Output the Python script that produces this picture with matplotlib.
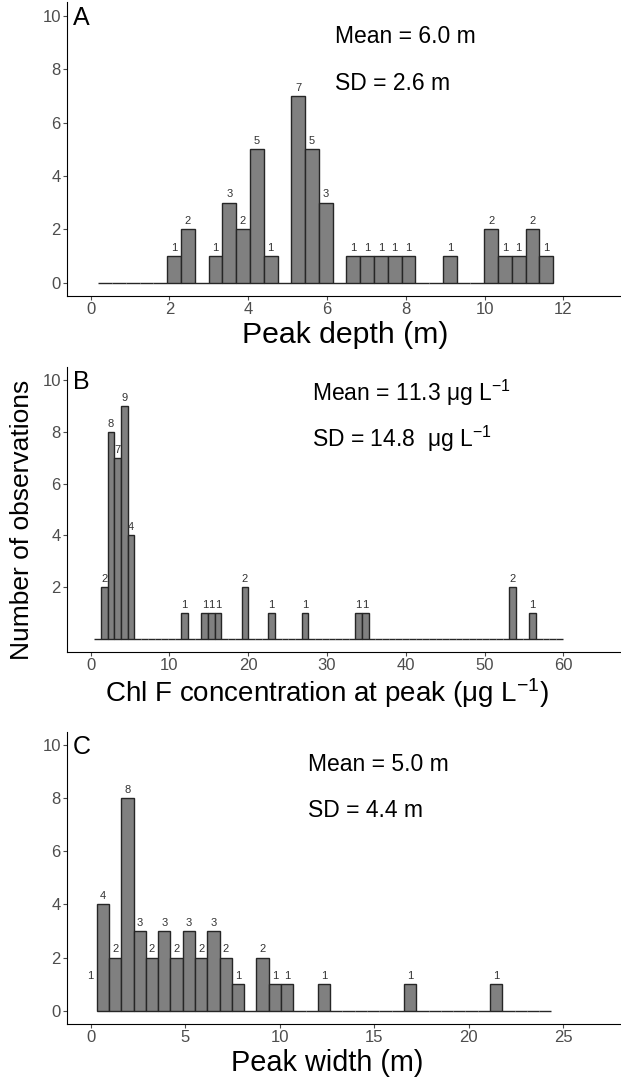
import numpy as np
import matplotlib.pyplot as plt

plt.rcParams['font.family'] = ['Liberation Sans', 'DejaVu Sans']
plt.rcParams['mathtext.fontset'] = 'custom'
plt.rcParams['mathtext.rm'] = 'Liberation Sans'
plt.rcParams['mathtext.it'] = 'Liberation Sans:italic'

#----------------------------------------------------------------------------
#    histogram data (bin start, bin width, counts)
#----------------------------------------------------------------------------

# A - peak depth (m)
depth_start = 0.195
depth_width = 0.3498
depth_counts = [0, 0, 0, 0, 0, 1, 2, 0, 1, 3, 2, 5, 1, 0, 7, 5, 3, 0,
                1, 1, 1, 1, 1, 0, 0, 1, 0, 0, 2, 1, 1, 2, 1]

# B - chl F concentration at peak (ug/L)
chl_start = 0.465
chl_width = 0.8493
chl_counts = [0] * 70
for i, c in [(1, 2), (2, 8), (3, 7), (4, 9), (5, 4), (13, 1), (16, 1),
             (17, 1), (18, 1), (22, 2), (26, 1), (31, 1), (39, 1), (40, 1),
             (62, 2), (65, 1)]:
    chl_counts[i] = c

# C - peak width (m)
width_start = 0.317
width_width = 0.6504
width_counts = [4, 2, 8, 3, 2, 3, 2, 3, 2, 3, 2, 1, 0, 2, 1, 1, 0, 0, 1,
                0, 0, 0, 0, 0, 0, 1, 0, 0, 0, 0, 0, 0, 1, 0, 0, 0, 0]
# one count label sits left of the first bar without a bar of its own
width_extra = (-1, 1)

FILL = "#808080"
EDGE = "#262626"
GREY = "#4d4d4d"


def panel(ax, start, w, counts, xlim, xticks, yticks, xlabel, lab_size,
          lab_x, letter, mean_txt, sd_txt, tx, ty1, ty2, extra=None):
    n = len(counts)
    edges = start + w * np.arange(n)
    ax.bar(edges, counts, width=w, align="edge", color=FILL,
           edgecolor=EDGE, linewidth=1.0)
    for x0, c in zip(edges, counts):
        if c > 0:
            ax.text(x0 + w / 2, c + 0.12, str(c), ha="center", va="bottom",
                    fontsize=8, color="#333333")
    if extra is not None:
        ax.text(start + w * (extra[0] + 0.5), extra[1] + 0.12, str(extra[1]),
                ha="center", va="bottom", fontsize=8, color="#333333")
    ax.set_xlim(xlim)
    ax.set_ylim(-0.5, 10.5)
    ax.set_xticks(xticks)
    ax.set_yticks(yticks)
    for s in ["top", "right"]:
        ax.spines[s].set_visible(False)
    for s in ["left", "bottom"]:
        ax.spines[s].set_linewidth(0.8)
        ax.spines[s].set_color("black")
    ax.tick_params(length=3, width=0.8, color=GREY, labelcolor=GREY,
                   labelsize=12, pad=1.5)
    ax.set_xlabel(xlabel, fontsize=lab_size, labelpad=1)
    ax.xaxis.set_label_coords(lab_x, -0.085)
    ax.xaxis.label.set_va("top")
    ax.text(0.01, 0.922, letter, transform=ax.transAxes, fontsize=18,
            va="baseline", ha="left")
    ax.text(tx, ty1, mean_txt, fontsize=16.5, va="baseline", ha="left")
    ax.text(tx, ty2, sd_txt, fontsize=16.5, va="baseline", ha="left")


fig = plt.figure(figsize=(6.21, 10.8), dpi=100)
axA = fig.add_axes([0.1079, 0.7259, 0.8921, 0.2719])
axB = fig.add_axes([0.1079, 0.3963, 0.8921, 0.2639])
axC = fig.add_axes([0.1079, 0.0519, 0.8921, 0.2706])

panel(axA, depth_start, depth_width, depth_counts, (-0.6, 13.46),
      range(0, 13, 2), range(0, 11, 2), "Peak depth (m)", 21.8, 0.503, "A",
      "Mean = 6.0 m", "SD = 2.6 m", 6.2, 8.97, 7.23)

panel(axB, chl_start, chl_width, chl_counts, (-3.0, 67.3),
      range(0, 61, 10), range(2, 11, 2),
      r"Chl F concentration at peak (μg L$^{-1}$)", 20, 0.469, "B",
      r"Mean = 11.3 μg L$^{-1}$", r"SD = 14.8  μg L$^{-1}$", 28.1, 9.19, 7.42)

panel(axC, width_start, width_width, width_counts, (-1.25, 28.06),
      range(0, 26, 5), range(0, 11, 2), "Peak width (m)", 20.8, 0.469, "C",
      "Mean = 5.0 m", "SD = 4.4 m", 11.51, 9.03, 7.28, extra=width_extra)

fig.text(0.035, 0.519, "Number of observations", rotation=90, fontsize=19,
         ha="center", va="center")

plt.savefig("out.png", dpi=100)
